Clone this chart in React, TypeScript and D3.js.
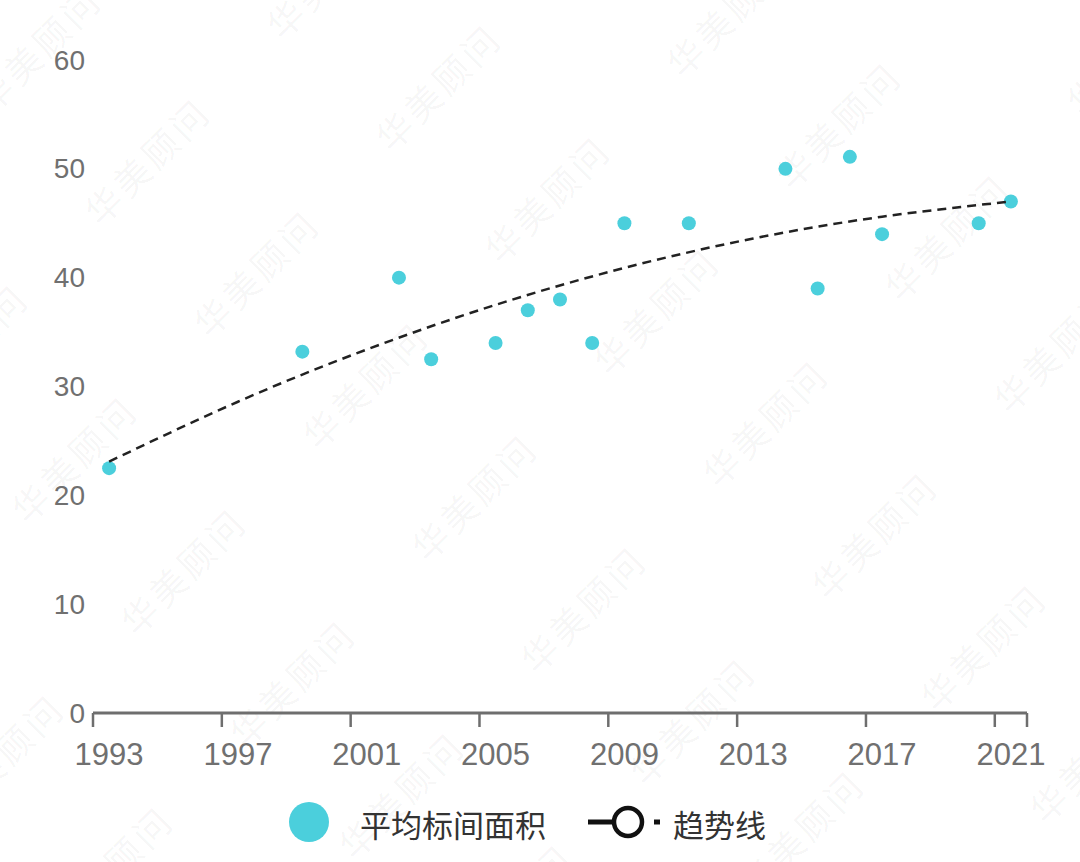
import { useEffect, useRef } from 'react';
import * as d3 from 'd3';

// scatter: 平均标间面积
const years = [1993, 1999, 2002, 2003, 2005, 2006, 2007, 2008, 2009, 2011, 2014, 2015, 2016, 2017, 2020, 2021];
const areaValues = [22.5, 33.2, 40, 32.5, 34, 37, 38, 34, 45, 45, 50, 39, 51.1, 44, 45, 47];

// trend line
const trendYears = [1993, 1997, 2001, 2005, 2009, 2013, 2017, 2021];
const trendValues = [23.1, 28.6, 33.4, 37.5, 40.9, 43.6, 45.6, 47.0];

const xTicks = [1993, 1997, 2001, 2005, 2009, 2013, 2017, 2021];
const yTicks = [0, 10, 20, 30, 40, 50, 60];

const seriesName = '平均标间面积';
const trendName = '趋势线';
const watermark = '华美顾问';

const WIDTH = 1080;
const HEIGHT = 862;
const CYAN = '#4bcfdc';

export default function App() {
  const svgRef = useRef<SVGSVGElement>(null);

  useEffect(() => {
    if (!svgRef.current) return;
    const svg = d3.select(svgRef.current);
    svg.selectAll('*').remove();

    const x = d3.scaleLinear().domain([1993, 2022]).range([93, 1027]);
    const y = d3.scaleLinear().domain([0, 60]).range([713, 60]);
    // points sit in the middle of their year
    const xc = (yr: number) => x(yr + 0.5);

    // watermark grid
    const wm = svg.append('g').attr('class', 'watermark');
    for (let i = -8; i <= 8; i++) {
      for (let j = -4; j <= 6; j++) {
        const cx = 146 + i * 109 + j * 291;
        const cy = 160 + i * 112 - j * 74;
        if (cx < -120 || cx > WIDTH + 120 || cy < -120 || cy > HEIGHT + 120) continue;
        wm.append('text')
          .attr('transform', `translate(${cx},${cy}) rotate(-45)`)
          .attr('text-anchor', 'middle')
          .attr('dominant-baseline', 'central')
          .style('font-family', '"Noto Sans CJK SC", sans-serif')
          .style('font-size', '36px')
          .style('letter-spacing', '4px')
          .style('fill', '#000')
          .style('fill-opacity', 0.045)
          .text(watermark);
      }
    }

    // y labels
    svg
      .append('g')
      .selectAll('text')
      .data(yTicks)
      .enter()
      .append('text')
      .attr('x', 85)
      .attr('y', (d) => y(d))
      .attr('text-anchor', 'end')
      .attr('dominant-baseline', 'central')
      .style('font-family', '"Liberation Sans", Arial, sans-serif')
      .style('font-size', '28px')
      .style('fill', '#707070')
      .text((d) => d);

    // x axis
    const axis = svg.append('g');
    axis
      .append('line')
      .attr('x1', x(1993))
      .attr('x2', x(2022))
      .attr('y1', y(0))
      .attr('y2', y(0))
      .style('stroke', '#6e6e6e')
      .style('stroke-width', 3);
    axis
      .selectAll('.tick')
      .data([...xTicks, 2022])
      .enter()
      .append('line')
      .attr('x1', (d) => x(d))
      .attr('x2', (d) => x(d))
      .attr('y1', y(0))
      .attr('y2', y(0) + 14)
      .style('stroke', '#6e6e6e')
      .style('stroke-width', 2.5);
    axis
      .selectAll('.label')
      .data(xTicks)
      .enter()
      .append('text')
      .attr('x', (d) => xc(d))
      .attr('y', 765)
      .attr('text-anchor', 'middle')
      .style('font-family', '"Liberation Sans", Arial, sans-serif')
      .style('font-size', '31px')
      .style('fill', '#707070')
      .text((d) => d);

    // points
    svg
      .append('g')
      .selectAll('circle')
      .data(years)
      .enter()
      .append('circle')
      .attr('cx', (d) => xc(d))
      .attr('cy', (_, i) => y(areaValues[i]))
      .attr('r', 7)
      .style('fill', CYAN);

    // trend line
    const line = d3
      .line<number>()
      .x((d) => xc(d))
      .y((_, i) => y(trendValues[i]))
      .curve(d3.curveNatural);
    svg
      .append('path')
      .datum(trendYears)
      .attr('d', line)
      .style('fill', 'none')
      .style('stroke', '#222')
      .style('stroke-width', 2.5)
      .style('stroke-dasharray', '9,6');

    // legend
    const lg = svg.append('g');
    lg.append('circle').attr('cx', 309).attr('cy', 822).attr('r', 20).style('fill', CYAN);
    lg.append('text')
      .attr('x', 360)
      .attr('y', 823)
      .attr('dominant-baseline', 'central')
      .style('font-family', '"Noto Sans CJK SC", sans-serif')
      .style('font-size', '31px')
      .style('fill', '#333')
      .text(seriesName);
    lg.append('line')
      .attr('x1', 588).attr('x2', 614).attr('y1', 822).attr('y2', 822)
      .style('stroke', '#111').style('stroke-width', 5);
    lg.append('line')
      .attr('x1', 654).attr('x2', 660).attr('y1', 822).attr('y2', 822)
      .style('stroke', '#111').style('stroke-width', 5);
    lg.append('circle')
      .attr('cx', 628).attr('cy', 822).attr('r', 14)
      .style('fill', '#fff').style('stroke', '#111').style('stroke-width', 4.5);
    lg.append('text')
      .attr('x', 673)
      .attr('y', 823)
      .attr('dominant-baseline', 'central')
      .style('font-family', '"Noto Sans CJK SC", sans-serif')
      .style('font-size', '31px')
      .style('fill', '#333')
      .text(trendName);
  }, []);

  return (
    <>
      <style>{'body{margin:0;background:#fff}'}</style>
      <svg ref={svgRef} width={WIDTH} height={HEIGHT} style={{ display: 'block' }} />
    </>
  );
}
